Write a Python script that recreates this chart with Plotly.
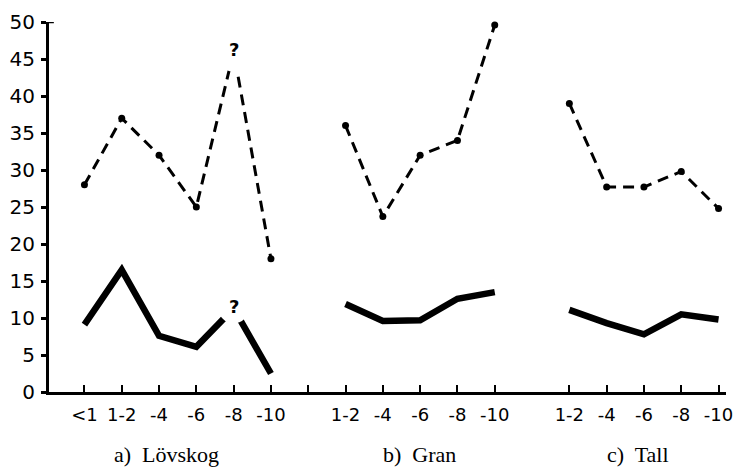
import plotly.graph_objects as go

# Forest types and the age classes measured in each
groups = ["a)  Lövskog", "b)  Gran", "c)  Tall"]
lov_classes = ["<1", "1-2", "-4", "-6", "-8", "-10"]
gran_classes = ["1-2", "-4", "-6", "-8", "-10"]
tall_classes = ["1-2", "-4", "-6", "-8", "-10"]

# Upper (dashed) series
lov_dashed = [28, 37, 32, 25, 46, 18]
gran_dashed = [36, 23.7, 32, 34, 49.6]
tall_dashed = [39, 27.7, 27.7, 29.8, 24.8]

# Lower (solid) series
lov_solid = [9.1, 16.5, 7.6, 6.1, 11.3, 2.5]
gran_solid = [11.9, 9.6, 9.7, 12.6, 13.5]
tall_solid = [11.1, 9.3, 7.8, 10.5, 9.8]

# Uncertain value (age class "-8" in Lövskog)
uncertain_index = 4

y_ticks = [0, 5, 10, 15, 20, 25, 30, 35, 40, 45, 50]

# slot of the first class of each group along the x axis
group_start = [0, 7, 13]
class_lists = [lov_classes, gran_classes, tall_classes]
dashed_lists = [lov_dashed, gran_dashed, tall_dashed]
solid_lists = [lov_solid, gran_solid, tall_solid]

fig = go.Figure()

tickvals, ticktext = [], []
for start, classes, dvals, svals in zip(group_start, class_lists, dashed_lists, solid_lists):
    xs = [start + i for i in range(len(classes))]
    tickvals += xs
    ticktext += classes
    fig.add_trace(go.Scatter(
        x=xs, y=svals, mode="lines",
        line=dict(color="black", width=6.5),
        hoverinfo="skip", showlegend=False, cliponaxis=False))
    fig.add_trace(go.Scatter(
        x=xs, y=dvals, mode="lines+markers",
        line=dict(color="black", width=3, dash="11px,7px"),
        marker=dict(color="black", size=7),
        hoverinfo="skip", showlegend=False, cliponaxis=False))

# an extra unlabelled tick after the Lövskog group
tickvals.append(6)
ticktext.append("")

# break the lines around the uncertain point and mark it with "?"
ux = group_start[0] + uncertain_index
fig.add_trace(go.Scatter(
    x=[ux, ux], y=[lov_dashed[uncertain_index], lov_solid[uncertain_index]],
    mode="markers", opacity=1,
    marker=dict(color="white", size=[40, 30], opacity=1, line=dict(width=0)),
    hoverinfo="skip", showlegend=False, cliponaxis=False))
for yv in (lov_dashed[uncertain_index], lov_solid[uncertain_index]):
    fig.add_annotation(x=ux, y=yv, text="<b>?</b>", showarrow=False, yshift=2,
                       font=dict(family="DejaVu Sans", size=18, color="black"),
                       xanchor="center", yanchor="middle")

# group captions under the axis
caption_x = [2.19, 8.97, 14.83]
for name, cx in zip(groups, caption_x):
    fig.add_annotation(x=cx, y=-0.168, xref="x", yref="paper", text=name,
                       showarrow=False,
                       font=dict(family="Liberation Serif", size=22, color="black"),
                       xanchor="center", yanchor="middle")

# small hook at the top of the y axis
fig.add_shape(type="line", x0=-0.95, x1=-0.82, y0=50, y1=50,
              xref="x", yref="y", line=dict(color="black", width=2.5))

fig.update_layout(
    width=743, height=473,
    margin=dict(l=45, r=10, t=15, b=81),
    paper_bgcolor="white", plot_bgcolor="white",
    xaxis=dict(
        range=[-0.95, 17.2], tickvals=tickvals, ticktext=ticktext,
        ticks="inside", ticklen=7, tickwidth=2, tickcolor="black",
        showline=True, linecolor="black", linewidth=3,
        showgrid=False, zeroline=False, ticklabelstandoff=4,
        tickfont=dict(family="DejaVu Sans", size=18, color="black"),
    ),
    yaxis=dict(
        range=[0, 50], tickvals=y_ticks,
        ticks="outside", ticklen=5, tickwidth=2.5, tickcolor="black",
        showline=True, linecolor="black", linewidth=3,
        showgrid=False, zeroline=False, ticklabelstandoff=2,
        tickfont=dict(family="DejaVu Sans", size=20, color="black"),
    ),
)

fig.write_html("out.html")
